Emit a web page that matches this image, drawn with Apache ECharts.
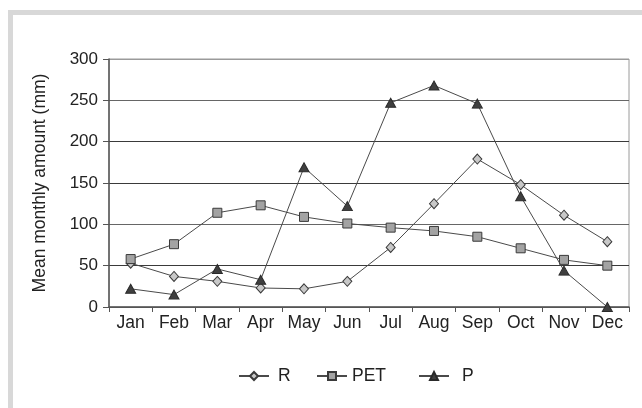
<!DOCTYPE html>
<html>
<head>
    <meta charset="utf-8">
    <title>Mean monthly amount</title>
    <script src="https://cdn.jsdelivr.net/npm/echarts@6/dist/echarts.min.js"></script>
    <style>
        html, body { margin: 0; padding: 0; background: #fff; }
        #chart { width: 642px; height: 408px; }
    </style>
</head>
<body>
<div id="chart"></div>
<script type="text/javascript">
    var months = ['Jan', 'Feb', 'Mar', 'Apr', 'May', 'Jun', 'Jul', 'Aug', 'Sep', 'Oct', 'Nov', 'Dec'];
    var rData = [53, 37, 31, 23, 22, 31, 72, 125, 179, 148, 111, 79];
    var petData = [58, 76, 114, 123, 109, 101, 96, 92, 85, 71, 57, 50];
    var pData = [22, 15, 46, 33, 169, 122, 247, 268, 246, 134, 44, 0];
    var yTicks = [0, 300, 50];   // min, max, step

    var font = 'Liberation Sans, Arial, sans-serif';
    var lineCol = '#4a4a4a';

    var myChart = echarts.init(document.getElementById('chart'), null, {renderer: 'canvas'});

    // one legend per item so the spacing can follow the original
    function legendAt(name, left, padLeft) {
        return {
            data: [name],
            left: left,
            top: 362,
            itemWidth: 30,
            itemHeight: 10,
            itemGap: 0,
            selectedMode: false,
            textStyle: {fontFamily: font, fontSize: 17.5, color: '#222', padding: [0, 0, 0, padLeft]}
        };
    }

    var option = {
        animation: false,
        backgroundColor: '#fff',
        graphic: [{
            type: 'polyline',
            shape: {points: [[10.5, 408], [10.5, 12.5], [642, 12.5]]},
            style: {stroke: '#d8d8d8', lineWidth: 5, fill: null}
        }],
        grid: {
            left: 109, top: 59, right: 13, bottom: 101,
            show: true, borderColor: '#9a9a9a', borderWidth: 1
        },
        legend: [
            legendAt('R', 233, 4),
            legendAt('PET', 311, 0),
            legendAt('P', 413, 8)
        ],
        xAxis: {
            type: 'category',
            data: months,
            boundaryGap: true,
            axisLine: {lineStyle: {color: '#555', width: 1.5}},
            axisTick: {show: true, length: 5, inside: false, alignWithLabel: false, lineStyle: {color: '#555'}},
            axisLabel: {fontFamily: font, fontSize: 17.5, color: '#222', margin: 7},
            splitLine: {show: false}
        },
        yAxis: {
            type: 'value',
            min: yTicks[0], max: yTicks[1], interval: yTicks[2],
            name: 'Mean monthly amount (mm)',
            nameLocation: 'middle',
            nameGap: 60,
            nameTextStyle: {fontFamily: font, fontSize: 17.5, color: '#222'},
            axisLine: {show: true, lineStyle: {color: '#555', width: 1.5}},
            axisTick: {show: true, length: 6, lineStyle: {color: '#555'}},
            axisLabel: {fontFamily: font, fontSize: 17, color: '#222', margin: 11},
            splitLine: {
                show: true,
                lineStyle: {color: ['#555', '#3a3a3a', '#666', '#3a3a3a', '#3a3a3a', '#666', '#9a9a9a'], width: 1}
            }
        },
        series: [
            {
                name: 'R',
                type: 'line',
                data: rData,
                symbol: 'diamond',
                symbolSize: [9, 10],
                lineStyle: {color: lineCol, width: 1},
                itemStyle: {color: '#c8c8c8', borderColor: '#3a3a3a', borderWidth: 1},
                z: 3
            },
            {
                name: 'PET',
                type: 'line',
                data: petData,
                symbol: 'rect',
                symbolSize: 9,
                lineStyle: {color: lineCol, width: 1},
                itemStyle: {color: '#a3a3a3', borderColor: '#3a3a3a', borderWidth: 1},
                z: 4
            },
            {
                name: 'P',
                type: 'line',
                data: pData,
                symbol: 'triangle',
                symbolSize: [10, 9],
                lineStyle: {color: lineCol, width: 1},
                itemStyle: {color: '#3f3f3f', borderColor: '#2a2a2a', borderWidth: 1},
                z: 5
            }
        ]
    };

    myChart.setOption(option);
</script>
</body>
</html>
